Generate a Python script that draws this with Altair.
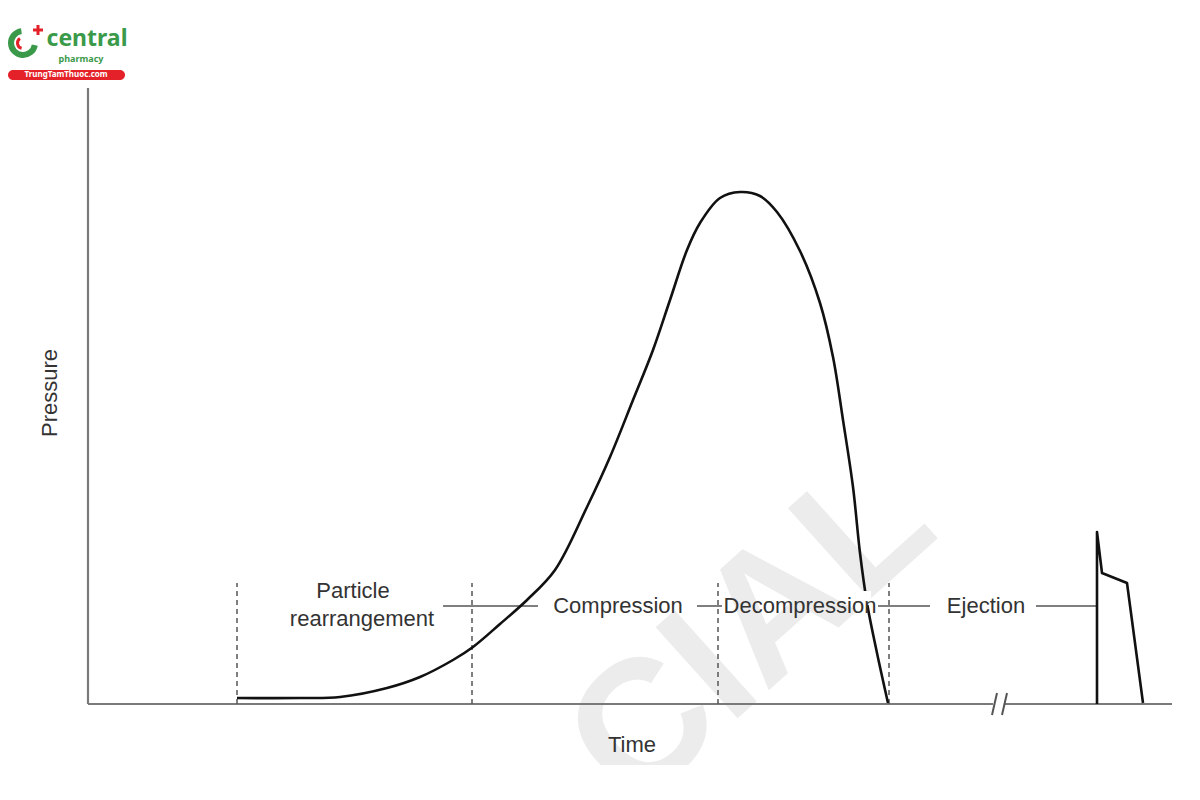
import altair as alt
import pandas as pd

# ---- data (time in drawing units, pressure in drawing units above baseline) ----
curve_time = [237, 300, 340, 387, 420, 453, 473, 500, 527, 555, 587, 610, 633, 653,
              670, 687, 700, 720, 740, 760, 777, 800, 820, 833, 843, 853, 860, 867, 877, 888]
curve_pressure = [6, 6, 7, 16, 27, 44, 57, 80, 104, 134, 197, 247, 304, 354,
                  404, 454, 481, 506, 512, 508, 492, 453, 401, 347, 284, 217, 151, 101, 51, 1]

eject_time = [1097, 1097, 1102, 1127, 1143]
eject_pressure = [0, 172, 131, 121, 1]

phase_bounds = [237, 472, 718, 889]
phase_top = 121

label_text = ["Particle", "rearrangement", "Compression", "Decompression", "Ejection"]
label_time = [353, 362, 618, 800, 986]
label_pressure = [113, 85, 98, 98, 98]

connector_start = [443, 697, 878, 1036]
connector_end = [538, 722, 930, 1097]
connector_pressure = 98

W, H = 1184, 784
XD = [8, 1192]
YD = [-88, 696]
FONT = "Liberation Sans"
AX = "#7a7a7a"


def xs(f):
    return alt.X(f, type="quantitative", scale=alt.Scale(domain=XD), axis=None)


def ys(f):
    return alt.Y(f, type="quantitative", scale=alt.Scale(domain=YD), axis=None)


curve_df = pd.DataFrame({"t": curve_time, "p": curve_pressure})
eject_df = pd.DataFrame({"t": eject_time, "p": eject_pressure, "o": list(range(len(eject_time)))})
bounds_df = pd.DataFrame({"t": phase_bounds, "p": [0] * 4, "p2": [phase_top] * 4})
labels_df = pd.DataFrame({"t": label_time, "p": label_pressure, "txt": label_text})
conn_df = pd.DataFrame({"t": connector_start, "t2": connector_end,
                        "p": [connector_pressure] * 4})

axes_df = pd.DataFrame({"t": [88, 88, 1005], "t2": [88, 993, 1172],
                        "p": [0, 0, 0], "p2": [616, 0, 0]})
break_df = pd.DataFrame({"t": [992, 1002], "t2": [997, 1007], "p": [-11, -11], "p2": [11, 11]})

titles_df = pd.DataFrame({"t": [50, 632], "p": [311, -41], "txt": ["Pressure", "Time"],
                          "a": [270, 0]})

# watermark (clipped at the bottom of the original picture)
wm_df = pd.DataFrame({"t": [752], "p": [70], "txt": ["CIAL"]})
watermark = alt.Chart(wm_df).mark_text(
    font=FONT, fontSize=178, fontWeight="bold", color="#ececec", angle=318,
    align="center", baseline="middle"
).encode(x=xs("t"), y=ys("p"), text="txt:N")
cover_df = pd.DataFrame({"t": [8], "t2": [1192], "p": [-61], "p2": [-88]})
cover = alt.Chart(cover_df).mark_rect(color="white").encode(
    x=xs("t"), x2="t2", y=ys("p"), y2="p2")

axes = alt.Chart(axes_df).mark_rule(color=AX, strokeWidth=2.2).encode(
    x=xs("t"), x2="t2", y=ys("p"), y2="p2")
breaks = alt.Chart(break_df).mark_rule(color="#555", strokeWidth=2).encode(
    x=xs("t"), x2="t2", y=ys("p"), y2="p2")

bounds = alt.Chart(bounds_df).mark_rule(color="#555", strokeWidth=1.5, strokeDash=[5, 4]).encode(
    x=xs("t"), y=ys("p"), y2="p2")

conns = alt.Chart(conn_df).mark_rule(color="#555", strokeWidth=1.5).encode(
    x=xs("t"), x2="t2", y=ys("p"))

curve = alt.Chart(curve_df).mark_line(color="#111", strokeWidth=2.6,
                                      interpolate="catmull-rom").encode(
    x=xs("t"), y=ys("p"))

eject = alt.Chart(eject_df).mark_line(color="#111", strokeWidth=2.6, strokeJoin="round").encode(
    x=xs("t"), y=ys("p"), order="o:Q")

gap_df = pd.DataFrame({"t": [855], "t2": [871], "p": [99], "p2": [113]})
gap = alt.Chart(gap_df).mark_rect(color="white").encode(x=xs("t"), x2="t2", y=ys("p"), y2="p2")

labels = alt.Chart(labels_df).mark_text(font=FONT, fontSize=22, color="#333",
                                        align="center", baseline="middle").encode(
    x=xs("t"), y=ys("p"), text="txt:N")

titles = alt.Chart(titles_df).mark_text(font=FONT, fontSize=22, color="#333",
                                        align="center", baseline="middle").encode(
    x=xs("t"), y=ys("p"), text="txt:N", angle=alt.Angle("a:Q", scale=None))

# logo
GREEN = "#3a9a4a"
RED = "#e42128"
logo_pt = pd.DataFrame({"t": [23], "p": [661]})
ring = alt.Chart(logo_pt).mark_arc(radius=15, radius2=9, theta=1.75, theta2=6.15, color=GREEN).encode(
    x=xs("t"), y=ys("p"))
ring_in = alt.Chart(logo_pt).mark_arc(radius=7, radius2=4, theta=3.4, theta2=5.7, color=RED).encode(
    x=xs("t"), y=ys("p"))
plus_df = pd.DataFrame({"t": [33, 38], "t2": [43, 38], "p": [674, 679], "p2": [674, 669]})
plus = alt.Chart(plus_df).mark_rule(color=RED, strokeWidth=3).encode(
    x=xs("t"), x2="t2", y=ys("p"), y2="p2")
pill_df = pd.DataFrame({"t": [8], "t2": [125], "p": [624], "p2": [634]})
pill = alt.Chart(pill_df).mark_rect(color=RED, cornerRadius=5).encode(
    x=xs("t"), x2="t2", y=ys("p"), y2="p2")
logo_txt_df = pd.DataFrame({"t": [87, 81, 66], "p": [665, 645, 629],
                            "txt": ["central", "pharmacy", "TrungTamThuoc.com"],
                            "s": [23, 9, 8], "c": [GREEN, GREEN, "white"]})
logo_txt = alt.Chart(logo_txt_df).mark_text(font="Noto Sans", fontWeight="bold",
                                            align="center", baseline="middle").encode(
    x=xs("t"), y=ys("p"), text="txt:N",
    size=alt.Size("s:Q", scale=None, legend=None),
    color=alt.Color("c:N", scale=None, legend=None))

chart = alt.layer(
    watermark, cover, axes, breaks, bounds, conns, curve, eject, gap, labels, titles,
    ring, ring_in, plus, pill, logo_txt
).properties(
    width=W, height=H, autosize=alt.AutoSizeParams(type="none"), padding=0
).configure_view(stroke=None)

chart.save("out.html", embed_options={"renderer": "svg", "actions": False})
